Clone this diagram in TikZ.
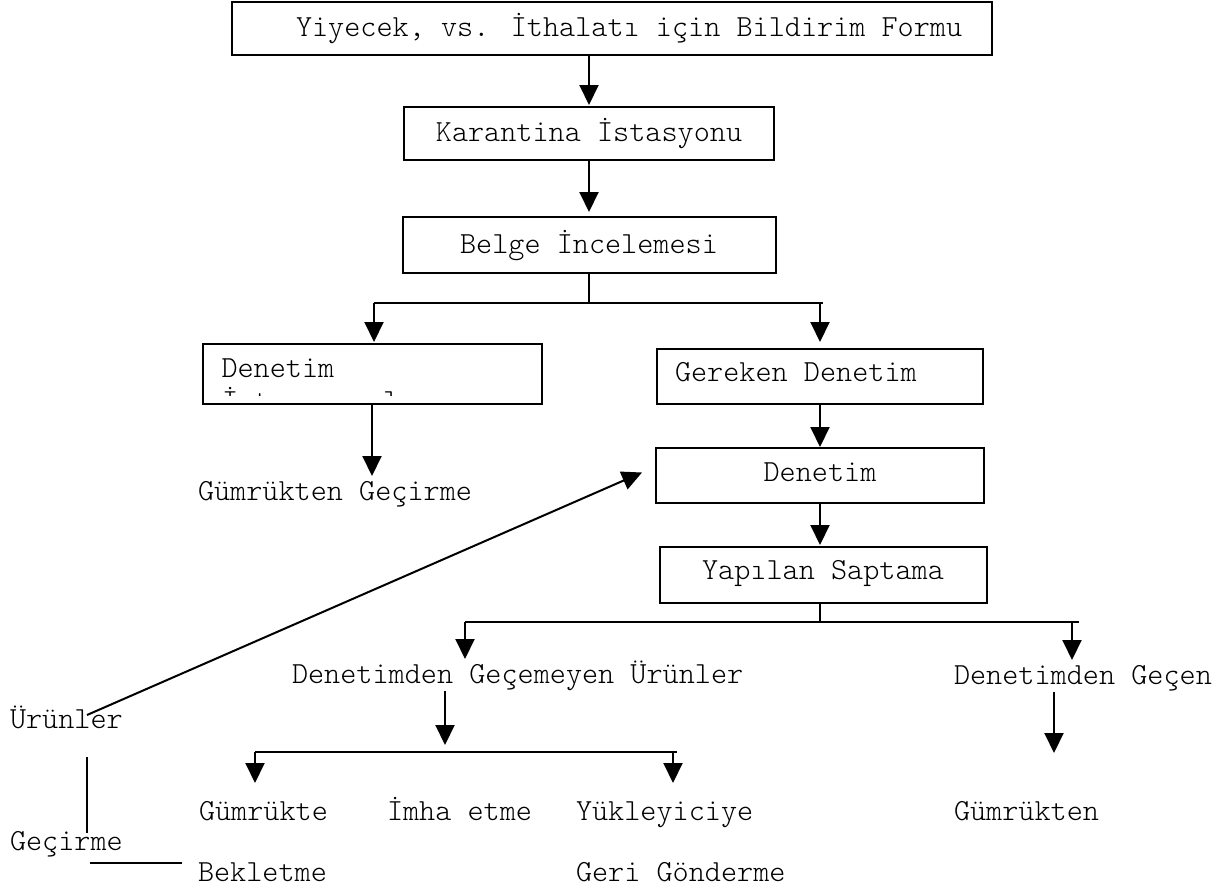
\documentclass[tikz,border=0pt]{standalone}
\usepackage{fontspec}
\newfontfamily\lmlight{lmmonolt10-regular.otf}
\usetikzlibrary{arrows.meta}
\begin{document}
\begin{tikzpicture}[x=1pt,y=-1pt,
  every node/.style={font=\lmlight\fontsize{30.7}{36}\selectfont, inner sep=0pt, outer sep=0pt},
  box/.style={draw, line width=2pt, text height=20pt, text depth=4pt},
  lab/.style={anchor=base west, text height=24pt, text depth=8pt},
  ln/.style={line width=2pt},
  arr/.style={ln, -{Triangle[width=19pt,length=20pt]}}]
\fill[white] (0,0) rectangle (1224,889);
\useasboundingbox (0,0) rectangle (1224,889);

% boxes
\node[box, minimum width=760pt, minimum height=53pt] (top) at (612,28.5) {\makebox[760pt][l]{\hspace*{64pt}Yiyecek, vs. İthalatı için Bildirim Formu}};
\node[box, minimum width=370pt, minimum height=53pt] (kar) at (589,133.5) {Karantina İstasyonu};
\node[box, minimum width=373pt, minimum height=56pt] (belge) at (589,245) {Belge İncelemesi};
\node[box, minimum width=339pt, minimum height=60pt, text depth=14pt] (den1) at (372,374) {\makebox[339pt][l]{\hspace*{19pt}Denetim}};
\begin{scope}
  \clip (205,346) rectangle (540,395);
  \node[lab] (den1b) at (222,410) {İstenmeyenler};
\end{scope}
\node[box, minimum width=326pt, minimum height=55pt, text depth=11pt] (ger) at (820,376.5) {\makebox[326pt][l]{\hspace*{18pt}Gereken Denetim}};
\node[box, minimum width=328pt, minimum height=55pt, text depth=9pt] (den2) at (820,475.5) {Denetim};
\node[box, minimum width=327pt, minimum height=56pt, text depth=11pt] (yap) at (823,575) {Yapılan Saptama};

% free labels
\node[lab] (gg1) at (198,500) {Gümrükten Geçirme};
\node[lab] (dgu) at (292,683) {Denetimden Geçemeyen Ürünler};
\node[lab] (dg) at (954,684) {Denetimden Geçen};
\node[lab] (urun) at (10,728) {Ürünler};
\node[lab] (gum) at (199,820) {Gümrükte};
\node[lab] (imha) at (387,820) {İmha etme};
\node[lab] (yuk) at (576,820) {Yükleyiciye};
\node[lab] (gum2) at (954,820) {Gümrükten};
\node[lab] (gec) at (10,850) {Geçirme};
\node[lab] (bek) at (198,881) {Bekletme};
\node[lab] (geri) at (576,881) {Geri Gönderme};

% connectors
\draw[arr, shorten >=2pt] (kar.north |- top.south) -- (kar.north);
\draw[arr, shorten >=5pt] (belge.north |- kar.south) -- (belge.north);

\coordinate (bj) at (589,303);
\coordinate (bl) at (374,303);
\coordinate (br) at (820,303);
\coordinate (bre) at (823,303);
\draw[ln] (bj |- belge.south) -- (bj);
\draw[ln] (bl) -- (bre);
\draw[arr, shorten >=2pt] (bl) -- (bl |- den1.north);
\draw[arr, shorten >=7pt] (br) -- (br |- ger.north);

\draw[arr] (den1.south) -- (den1.south |- gg1.north);
\draw[arr, shorten >=1pt] (ger.south) -- (ger.south |- den2.north);
\draw[arr, shorten >=2pt] (den2.south) -- (den2.south |- yap.north);

\coordinate (yj) at (820,622);
\coordinate (yl) at (465,622);
\coordinate (yr) at (1072,622);
\coordinate (yre) at (1079,622);
\draw[ln] (yj |- yap.south) -- (yj);
\draw[ln] (yl) -- (yre);
\draw[arr] (yl) -- (yl |- dgu.north);
\draw[arr] (yr) -- (yr |- dg.north);

\coordinate (lj) at (445,752);
\coordinate (ll) at (255,752);
\coordinate (lr) at (673,752);
\coordinate (lre) at (677,752);
\draw[arr, shorten >=7pt] (lj |- dgu.south) -- (lj);
\draw[ln] (ll) -- (lre);
\draw[arr, shorten >=13pt] (ll) -- (ll |- gum.north);
\draw[arr, shorten >=13pt] (lr) -- (lr |- yuk.north);

\coordinate (gt) at (1054,753);
\draw[arr] (gt |- dg.south) -- (gt);

\coordinate (us) at (87,715);
\draw[arr] (us) -- ([xshift=-14pt,yshift=3pt]den2.west);

\coordinate (v1) at (87,757);
\coordinate (v2) at (87,833);
\draw[ln] (v1) -- (v2);
\coordinate (h1) at (90,863);
\coordinate (h2) at (182,863);
\draw[ln] (h1) -- (h2);
\end{tikzpicture}
\end{document}
